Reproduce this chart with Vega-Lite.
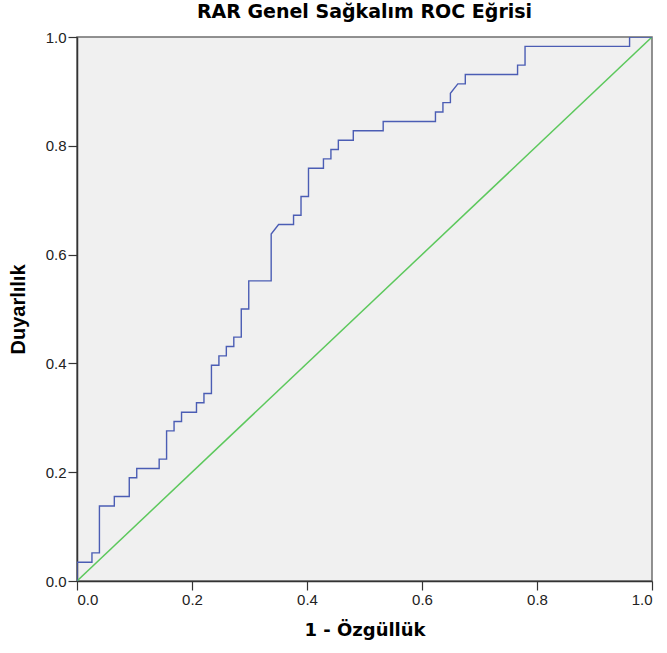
{
  "$schema": "https://vega.github.io/schema/vega-lite/v6.json",
  "width": 575,
  "height": 544,
  "autosize": {"type": "none"},
  "padding": {"left": 77, "top": 37, "right": 15, "bottom": 72},
  "background": "white",
  "title": {
    "text": "RAR Genel Sağkalım ROC Eğrisi",
    "font": "DejaVu Sans",
    "fontSize": 19,
    "fontWeight": "bold",
    "color": "#000000",
    "anchor": "middle",
    "offset": 8
  },
  "config": {
    "view": {"fill": "#F0F0F0", "stroke": "#6E6E6E", "strokeWidth": 1.5},
    "axis": {
      "grid": false,
      "domainColor": "#333333",
      "domainWidth": 1.5,
      "tickColor": "#333333",
      "tickSize": 9,
      "tickWidth": 1.2,
      "labelFont": "Liberation Sans",
      "labelFontSize": 15,
      "labelColor": "#222222",
      "titleColor": "#000000"
    }
  },
  "layer": [
    {
      "data": {"values": [{"x": 0, "y": 0}, {"x": 1, "y": 1}]},
      "mark": {"type": "line", "color": "#5CC85C", "strokeWidth": 1.5, "clip": true},
      "encoding": {
        "x": {"field": "x", "type": "quantitative", "scale": {"domain": [0, 1], "nice": false},
          "axis": {"title": "1 - Özgüllük", "values": [0, 0.2, 0.4, 0.6, 0.8, 1.0], "format": ".1f", "labelPadding": 2, "titlePadding": 14, "titleFont": "DejaVu Sans", "titleFontSize": 18, "titleFontWeight": "bold"}},
        "y": {"field": "y", "type": "quantitative", "scale": {"domain": [0, 1], "nice": false},
          "axis": {"title": "Duyarlılık", "values": [0, 0.2, 0.4, 0.6, 0.8, 1.0], "format": ".1f", "labelPadding": 2, "titlePadding": 17, "titleFont": "Liberation Sans", "titleFontSize": 20, "titleFontWeight": "bold"}}
      }
    },
    {
      "data": {"values": [
        {"i": 0, "fpr": 0, "tpr": 0},
        {"i": 1, "fpr": 0, "tpr": 0.0345},
        {"i": 2, "fpr": 0.026, "tpr": 0.0345},
        {"i": 3, "fpr": 0.026, "tpr": 0.0517},
        {"i": 4, "fpr": 0.039, "tpr": 0.0517},
        {"i": 5, "fpr": 0.039, "tpr": 0.1379},
        {"i": 6, "fpr": 0.0649, "tpr": 0.1379},
        {"i": 7, "fpr": 0.0649, "tpr": 0.1552},
        {"i": 8, "fpr": 0.0909, "tpr": 0.1552},
        {"i": 9, "fpr": 0.0909, "tpr": 0.1897},
        {"i": 10, "fpr": 0.1039, "tpr": 0.1897},
        {"i": 11, "fpr": 0.1039, "tpr": 0.2069},
        {"i": 12, "fpr": 0.1429, "tpr": 0.2069},
        {"i": 13, "fpr": 0.1429, "tpr": 0.2241},
        {"i": 14, "fpr": 0.1558, "tpr": 0.2241},
        {"i": 15, "fpr": 0.1558, "tpr": 0.2759},
        {"i": 16, "fpr": 0.1688, "tpr": 0.2759},
        {"i": 17, "fpr": 0.1688, "tpr": 0.2931},
        {"i": 18, "fpr": 0.1818, "tpr": 0.2931},
        {"i": 19, "fpr": 0.1818, "tpr": 0.3103},
        {"i": 20, "fpr": 0.2078, "tpr": 0.3103},
        {"i": 21, "fpr": 0.2078, "tpr": 0.3276},
        {"i": 22, "fpr": 0.2208, "tpr": 0.3276},
        {"i": 23, "fpr": 0.2208, "tpr": 0.3448},
        {"i": 24, "fpr": 0.2338, "tpr": 0.3448},
        {"i": 25, "fpr": 0.2338, "tpr": 0.3966},
        {"i": 26, "fpr": 0.2468, "tpr": 0.3966},
        {"i": 27, "fpr": 0.2468, "tpr": 0.4138},
        {"i": 28, "fpr": 0.2597, "tpr": 0.4138},
        {"i": 29, "fpr": 0.2597, "tpr": 0.431},
        {"i": 30, "fpr": 0.2727, "tpr": 0.431},
        {"i": 31, "fpr": 0.2727, "tpr": 0.4483},
        {"i": 32, "fpr": 0.2857, "tpr": 0.4483},
        {"i": 33, "fpr": 0.2857, "tpr": 0.5},
        {"i": 34, "fpr": 0.2987, "tpr": 0.5},
        {"i": 35, "fpr": 0.2987, "tpr": 0.5517},
        {"i": 36, "fpr": 0.3377, "tpr": 0.5517},
        {"i": 37, "fpr": 0.3377, "tpr": 0.6379},
        {"i": 38, "fpr": 0.3506, "tpr": 0.6552},
        {"i": 39, "fpr": 0.3766, "tpr": 0.6552},
        {"i": 40, "fpr": 0.3766, "tpr": 0.6724},
        {"i": 41, "fpr": 0.3896, "tpr": 0.6724},
        {"i": 42, "fpr": 0.3896, "tpr": 0.7069},
        {"i": 43, "fpr": 0.4026, "tpr": 0.7069},
        {"i": 44, "fpr": 0.4026, "tpr": 0.7586},
        {"i": 45, "fpr": 0.4286, "tpr": 0.7586},
        {"i": 46, "fpr": 0.4286, "tpr": 0.7759},
        {"i": 47, "fpr": 0.4416, "tpr": 0.7759},
        {"i": 48, "fpr": 0.4416, "tpr": 0.7931},
        {"i": 49, "fpr": 0.4545, "tpr": 0.7931},
        {"i": 50, "fpr": 0.4545, "tpr": 0.8103},
        {"i": 51, "fpr": 0.4805, "tpr": 0.8103},
        {"i": 52, "fpr": 0.4805, "tpr": 0.8276},
        {"i": 53, "fpr": 0.5325, "tpr": 0.8276},
        {"i": 54, "fpr": 0.5325, "tpr": 0.8448},
        {"i": 55, "fpr": 0.6234, "tpr": 0.8448},
        {"i": 56, "fpr": 0.6234, "tpr": 0.8621},
        {"i": 57, "fpr": 0.6364, "tpr": 0.8621},
        {"i": 58, "fpr": 0.6364, "tpr": 0.8793},
        {"i": 59, "fpr": 0.6494, "tpr": 0.8793},
        {"i": 60, "fpr": 0.6494, "tpr": 0.8966},
        {"i": 61, "fpr": 0.6623, "tpr": 0.9138},
        {"i": 62, "fpr": 0.6753, "tpr": 0.9138},
        {"i": 63, "fpr": 0.6753, "tpr": 0.931},
        {"i": 64, "fpr": 0.7662, "tpr": 0.931},
        {"i": 65, "fpr": 0.7662, "tpr": 0.9483},
        {"i": 66, "fpr": 0.7792, "tpr": 0.9483},
        {"i": 67, "fpr": 0.7792, "tpr": 0.9828},
        {"i": 68, "fpr": 0.961, "tpr": 0.9828},
        {"i": 69, "fpr": 0.961, "tpr": 1},
        {"i": 70, "fpr": 1, "tpr": 1}
      ]},
      "mark": {"type": "line", "color": "#4B5DB4", "strokeWidth": 1.4, "clip": true},
      "encoding": {
        "x": {"field": "fpr", "type": "quantitative"},
        "y": {"field": "tpr", "type": "quantitative"},
        "order": {"field": "i", "type": "quantitative"}
      }
    }
  ]
}
